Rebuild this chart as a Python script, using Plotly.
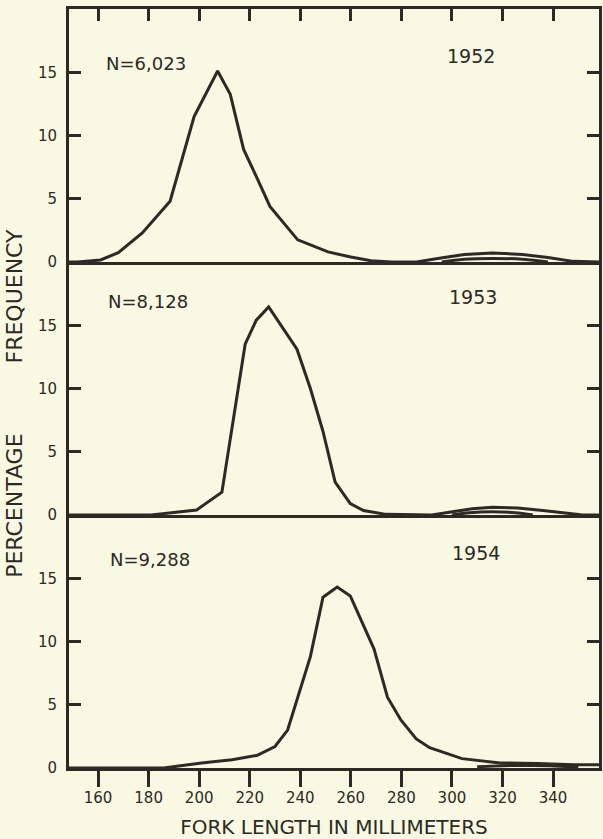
import plotly.graph_objects as go
from plotly.subplots import make_subplots

# ---- data ----
tick_mm = [160, 180, 200, 220, 240, 260, 280, 300, 320, 340]
tick_pct = [0, 5, 10, 15]

len_1952 = [148.5, 152, 161, 168, 177.5, 188.5, 198, 203, 207.3, 212.3, 217.6, 222.5, 228, 239, 251, 260, 268, 276, 286, 295, 305, 316, 328, 338, 348, 358.2]
pct_1952 = [0, 0, 0.16, 0.74, 2.3, 4.8, 11.5, 13.4, 15.1, 13.25, 8.9, 6.8, 4.4, 1.75, 0.8, 0.4, 0.1, 0, 0, 0.3, 0.6, 0.72, 0.6, 0.35, 0.05, 0]
hump_1952_len = [296, 305, 316, 328, 338]
hump_1952_pct = [0, 0.22, 0.28, 0.22, 0]

len_1953 = [148.5, 181, 199, 209, 218.2, 222.6, 227.5, 233.4, 238.7, 244, 249, 253.8, 259.8, 265, 274, 292, 300, 308, 316, 326, 336, 345, 351, 358.2]
pct_1953 = [0, 0, 0.4, 1.8, 13.5, 15.4, 16.45, 14.7, 13.1, 10.0, 6.6, 2.6, 0.9, 0.35, 0.05, 0, 0.25, 0.5, 0.62, 0.55, 0.35, 0.15, 0.02, 0]
hump_1953_len = [300, 307, 316, 325, 332]
hump_1953_pct = [0, 0.18, 0.25, 0.18, 0]

len_1954 = [148.5, 186, 201, 213, 223, 230, 235, 240, 244, 249, 254.6, 259.8, 264.6, 269.2, 274.5, 279.8, 285.9, 291.2, 304, 319, 334, 348, 358.2]
pct_1954 = [0, 0, 0.4, 0.66, 1.0, 1.7, 3.0, 6.2, 8.8, 13.5, 14.3, 13.6, 11.5, 9.4, 5.6, 3.8, 2.3, 1.6, 0.74, 0.4, 0.35, 0.25, 0.25]
hump_1954_len = [310, 320, 332, 345, 350]
hump_1954_pct = [0.1, 0.18, 0.2, 0.12, 0.05]

years = ["1952", "1953", "1954"]
sample_sizes = ["N=6,023", "N=8,128", "N=9,288"]

# ---- styling ----
INK = "#2b2a24"
BG = "#f8f8e3"
FONT = "DejaVu Sans"

fig = make_subplots(rows=3, cols=1, shared_xaxes=True, vertical_spacing=0)

series = [
    (len_1952, pct_1952, hump_1952_len, hump_1952_pct),
    (len_1953, pct_1953, hump_1953_len, hump_1953_pct),
    (len_1954, pct_1954, hump_1954_len, hump_1954_pct),
]
for i, (x, y, hx, hy) in enumerate(series, start=1):
    fig.add_trace(go.Scatter(x=x, y=y, mode="lines", line=dict(color=INK, width=3),
                             showlegend=False, hoverinfo="skip"), row=i, col=1)
    fig.add_trace(go.Scatter(x=hx, y=hy, mode="lines", line=dict(color=INK, width=3, shape="spline"),
                             showlegend=False, hoverinfo="skip"), row=i, col=1)

# panel labels
n_pos = [(162.5, 15.7), (163.2, 16.9), (164.0, 16.5)]
y_pos = [(307.5, 16.3), (308.2, 17.2), (309.4, 17.0)]
for i in range(3):
    xr = "x" if i == 0 else f"x{i+1}"
    yr = "y" if i == 0 else f"y{i+1}"
    fig.add_annotation(x=n_pos[i][0], y=n_pos[i][1], xref=xr, yref=yr, text=sample_sizes[i],
                       showarrow=False, xanchor="left", yanchor="middle",
                       font=dict(family=FONT, size=18, color=INK))
    fig.add_annotation(x=y_pos[i][0], y=y_pos[i][1], xref=xr, yref=yr, text=years[i],
                       showarrow=False, xanchor="center", yanchor="middle",
                       font=dict(family=FONT, size=19, color=INK))

# y axis title (spaced as in the original)
fig.add_annotation(x=-0.102, y=0.481, xref="paper", yref="paper",
                   text="PERCENTAGE" + "\u00a0" * 10 + "FREQUENCY",
                   textangle=-90, showarrow=False, xanchor="center", yanchor="middle",
                   font=dict(family=FONT, size=22, color=INK))

for i in range(1, 4):
    fig.update_yaxes(range=[0, 20], tickvals=tick_pct, ticktext=[str(v) for v in tick_pct],
                     ticks="inside", ticklen=12, tickwidth=3, tickcolor=INK,
                     showline=True, linewidth=3, linecolor=INK, mirror="ticks",
                     showgrid=False, zeroline=False, ticklabelstandoff=6,
                     tickfont=dict(family=FONT, size=15, color=INK), row=i, col=1)
    fig.update_xaxes(range=[148.5, 358.2], showgrid=False, zeroline=False,
                     showline=True, linewidth=3, linecolor=INK, mirror=False,
                     tickvals=tick_mm, row=i, col=1)

fig.update_xaxes(side="top", mirror=True, ticks="inside", ticklen=12, tickwidth=3, tickcolor=INK,
                 showticklabels=False, row=1, col=1)
fig.update_xaxes(ticks="", showticklabels=False, row=2, col=1)
fig.update_xaxes(ticks="outside", ticklen=16, tickwidth=3, tickcolor=INK,
                 showticklabels=True, ticktext=[str(v) for v in tick_mm],
                 ticklabelstandoff=-2,
                 tickfont=dict(family=FONT, size=15, color=INK),
                 title=dict(text="FORK LENGTH IN MILLIMETERS", standoff=14,
                            font=dict(family=FONT, size=20, color=INK)),
                 row=3, col=1)

fig.update_layout(width=603, height=839, autosize=False,
                  margin=dict(l=69, r=4, t=9, b=71, autoexpand=False),
                  paper_bgcolor=BG, plot_bgcolor=BG, showlegend=False)

fig.write_html("out.html", config={"displayModeBar": False, "staticPlot": True},
               post_script="document.body.style.margin='0px';document.body.style.background='#f8f8e3';")
